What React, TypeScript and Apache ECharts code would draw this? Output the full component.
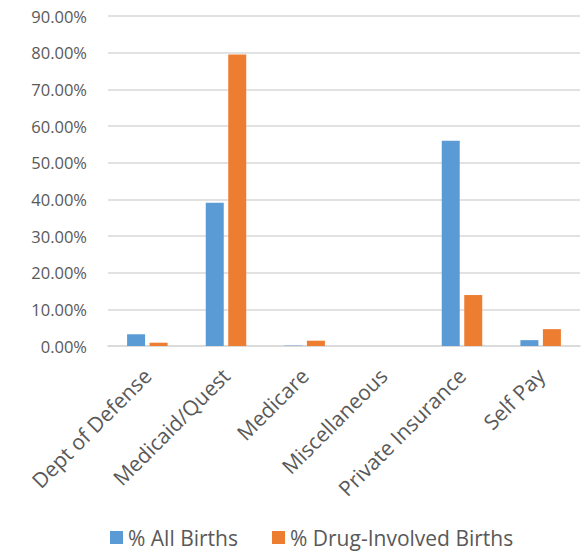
import React, { useEffect, useRef } from "react";
import * as echarts from "echarts";

const categories = ["Dept of Defense", "Medicaid/Quest", "Medicare", "Miscellaneous", "Private Insurance", "Self Pay"];
const allBirths = [3.2, 39.1, 0.1, 0, 56.0, 1.6];
const drugBirths = [0.9, 79.5, 1.45, 0, 13.9, 4.6];
const seriesNames = ["% All Births", "% Drug-Involved Births"];

const FONT = "'Open Sans', 'Liberation Sans', sans-serif";

export default function App() {
  const ref = useRef<HTMLDivElement>(null);
  useEffect(() => {
    if (!ref.current) return;
    const chart = echarts.init(ref.current, null, { renderer: "svg" });
    chart.setOption({
      animation: false,
      textStyle: { fontFamily: FONT },
      grid: { left: 108, right: 3, top: 16, bottom: 212, containLabel: false },
      legend: {
        top: 522,
        left: 105,
        itemWidth: 13,
        itemHeight: 13,
        itemGap: 34,
        icon: "rect",
        textStyle: { color: "#595959", fontSize: 21, fontFamily: FONT },
        data: seriesNames,
      },
      xAxis: {
        type: "category",
        data: categories,
        axisLine: { lineStyle: { color: "#D9D9D9", width: 1.5 } },
        axisTick: { show: false },
        axisLabel: { rotate: 45, color: "#595959", fontSize: 21, margin: 26, interval: 0, fontFamily: FONT },
      },
      yAxis: {
        type: "value",
        min: 0,
        max: 90,
        interval: 10,
        axisLine: { show: false },
        axisTick: { show: false },
        splitLine: { lineStyle: { color: "#D9D9D9", width: 1.5 } },
        axisLabel: {
          color: "#595959",
          fontSize: 16.5,
          margin: 21,
          fontFamily: FONT,
          formatter: (v: number) => v.toFixed(2) + "%",
        },
      },
      series: [
        {
          name: seriesNames[0],
          type: "bar",
          data: allBirths,
          barWidth: 18,
          barGap: "25%",
          itemStyle: { color: "#5B9BD5" },
        },
        {
          name: seriesNames[1],
          type: "bar",
          data: drugBirths,
          barWidth: 18,
          barGap: "25%",
          itemStyle: { color: "#ED7D31" },
        },
      ],
    });
    return () => chart.dispose();
  }, []);
  return (
    <div
      ref={ref}
      style={{ position: "absolute", left: 0, top: 0, width: 583, height: 558 }}
    />
  );
}
